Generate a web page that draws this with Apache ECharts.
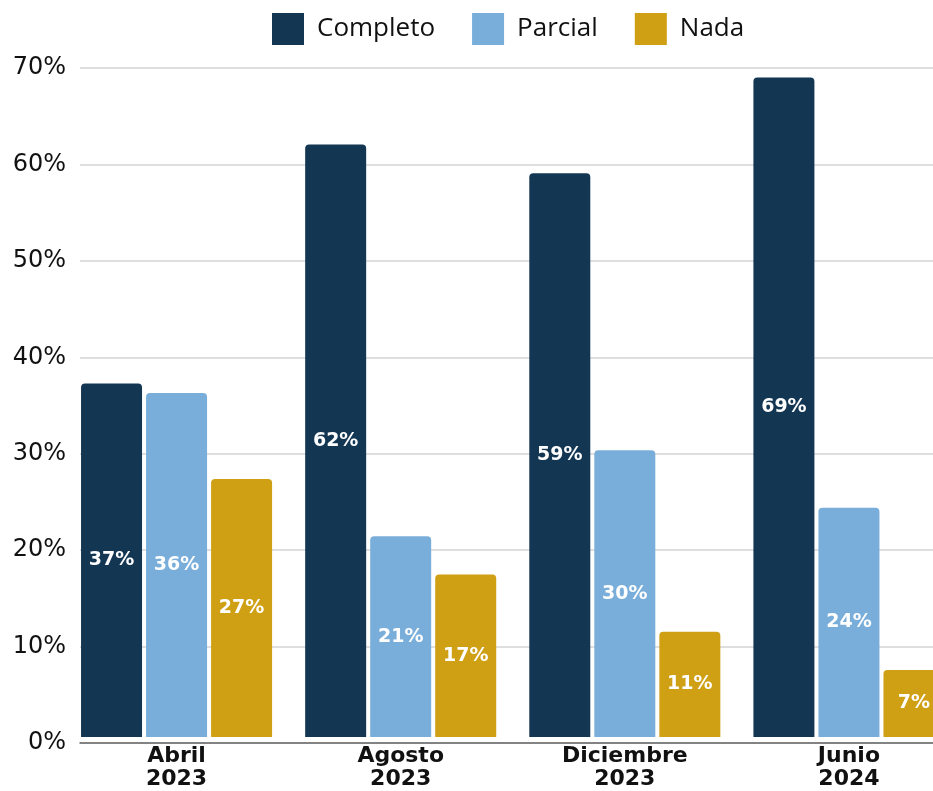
<!DOCTYPE html>
<html>
<head>
<meta charset="utf-8">
<script src="https://cdn.jsdelivr.net/npm/echarts@6/dist/echarts.min.js"></script>
<style>
  html, body { margin: 0; padding: 0; background: #fff; overflow: hidden; }
  /* the last group runs past the right edge in the original, so the chart is wider than the window */
  #chart { width: 961px; height: 791px; }
</style>
</head>
<body>
<div id="chart"></div>
<script>
const categories = ['Abril\n2023', 'Agosto\n2023', 'Diciembre\n2023', 'Junio\n2024']
const completo = [37, 62, 59, 69]
const parcial = [36, 21, 30, 24]
const nada = [27, 17, 11, 7]
const yTicks = [0, 10, 20, 30, 40, 50, 60, 70]

const colors = {
  completo: '#133653',
  parcial: '#7AAEDA',
  nada: '#CF9F14'
}

const chart = echarts.init(document.getElementById('chart'))

function barSeries(name, data, color) {
  return {
    name: name,
    type: 'bar',
    xAxisIndex: 0,
    yAxisIndex: 0,
    barWidth: 61,
    barGap: '6.6%',
    data: data,
    itemStyle: {
      color: color,
      borderRadius: [4, 4, 0, 0]
    },
    label: {
      show: true,
      position: 'inside',
      formatter: '{c}%',
      color: '#fff',
      fontFamily: 'DejaVu Sans',
      fontWeight: 'bold',
      fontSize: 19
    }
  }
}

const yMin = yTicks[0]
const yMax = yTicks[yTicks.length - 1]
const yStep = yTicks[1] - yTicks[0]

const options = {
  animation: false,
  legend: {
    left: 272,
    top: 13,
    padding: 0,
    itemWidth: 32,
    itemHeight: 32,
    itemGap: 37,
    icon: 'rect',
    textStyle: {
      fontFamily: 'Open Sans',
      fontSize: 26,
      color: '#111',
      padding: [0, 0, 0, 8]
    },
    data: ['Completo', 'Parcial', 'Nada']
  },
  grid: [
    // bars
    { left: 64.5, right: 0, top: 68, bottom: 48 },
    // axis lines and y labels
    { left: 80, right: 0, top: 68, bottom: 48 }
  ],
  xAxis: [
    {
      type: 'category',
      gridIndex: 0,
      data: categories,
      axisLine: { show: false },
      axisTick: { show: false },
      axisLabel: {
        margin: 8,
        color: '#111',
        fontFamily: 'DejaVu Sans',
        fontWeight: 'bold',
        fontSize: 22,
        lineHeight: 23
      }
    },
    {
      type: 'value',
      gridIndex: 1,
      min: 0,
      max: 1,
      axisLine: { show: true, onZero: false, lineStyle: { color: '#666', width: 1.5 } },
      axisTick: { show: false },
      axisLabel: { show: false },
      splitLine: { show: false }
    }
  ],
  yAxis: [
    {
      type: 'value',
      gridIndex: 0,
      min: yMin,
      max: yMax,
      interval: yStep,
      show: false,
      splitLine: { show: false }
    },
    {
      type: 'value',
      gridIndex: 1,
      min: yMin,
      max: yMax,
      interval: yStep,
      axisLine: { show: false },
      axisTick: { show: false },
      axisLabel: {
        margin: 14,
        formatter: '{value}%',
        color: '#111',
        fontFamily: 'DejaVu Sans',
        fontSize: 24
      },
      splitLine: { lineStyle: { color: '#d4d4d4', width: 1.5 } }
    }
  ],
  series: [
    barSeries('Completo', completo, colors.completo),
    barSeries('Parcial', parcial, colors.parcial),
    barSeries('Nada', nada, colors.nada)
  ]
}

chart.setOption(options)
</script>
</body>
</html>
